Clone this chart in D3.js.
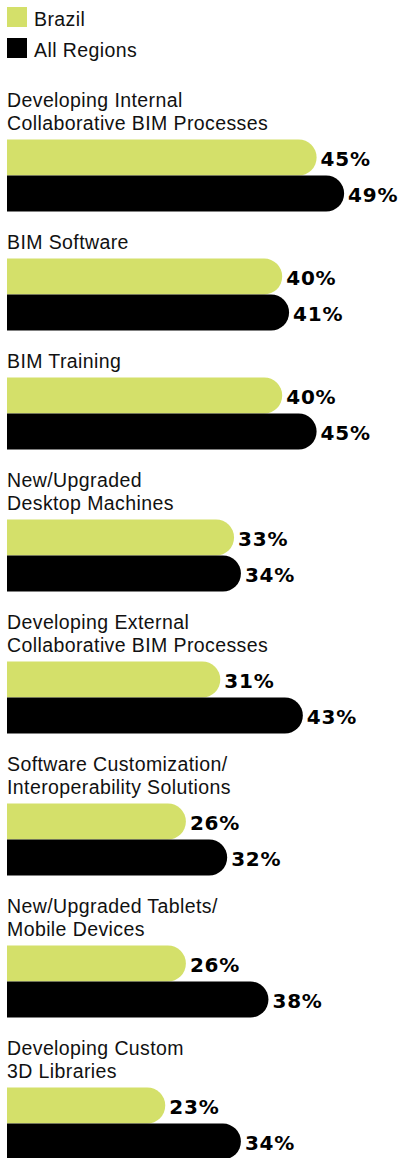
<!DOCTYPE html>
<html>
<head>
<meta charset="utf-8">
<script src="https://cdn.jsdelivr.net/npm/d3@7"></script>
<style>
  body { margin: 0; background: #fff; }
  .lab { font-family: "Liberation Sans", Arial, sans-serif; font-size: 19.5px; letter-spacing: 0.4px; fill: #111; }
  .val { font-family: "DejaVu Sans", sans-serif; font-weight: bold; font-size: 20px; letter-spacing: 0.8px; fill: #000; }
</style>
</head>
<body>
<div id="chart"></div>
<script>
// categories, one entry per line of the label
const categories = [
  ["Developing Internal", "Collaborative BIM Processes"],
  ["BIM Software"],
  ["BIM Training"],
  ["New/Upgraded", "Desktop Machines"],
  ["Developing External", "Collaborative BIM Processes"],
  ["Software Customization/", "Interoperability Solutions"],
  ["New/Upgraded Tablets/", "Mobile Devices"],
  ["Developing Custom", "3D Libraries"]
]
const brazil     = [45, 40, 40, 33, 31, 26, 26, 23]
const allRegions = [49, 41, 45, 34, 43, 32, 38, 34]
const seriesNames  = ["Brazil", "All Regions"]
const seriesColors = ["#d4e06a", "#000000"]

const width = 401, height = 1158
const barH = 36, lineH = 23

let svg = d3.select("#chart").append("svg")
  .attr("width", width)
  .attr("height", height)

let x = d3.scaleLinear().domain([0, 50]).range([7, 351])

// legend
let legend = svg.append("g")
seriesNames.forEach((name, i) => {
  legend.append("rect")
    .attr("x", 7).attr("y", 7 + i * 31)
    .attr("width", 20).attr("height", 20)
    .attr("fill", seriesColors[i])
  legend.append("text").attr("class", "lab")
    .attr("x", 34).attr("y", 26 + i * 31)
    .text(name)
})

// work out the vertical layout of each group
let groups = []
let y = 106.5
categories.forEach((lines, i) => {
  let baselines = lines.map((l, j) => y + j * lineH)
  let barTop = baselines[baselines.length - 1] + 10
  groups.push({lines, baselines, barTop, values: [brazil[i], allRegions[i]]})
  y = barTop + 2 * barH + 37
})

function barPath(x0, x1, top, h) {
  let r = h / 2
  return "M" + x0 + "," + top + "H" + (x1 - r) +
    "A" + r + "," + r + " 0 0 1 " + (x1 - r) + "," + (top + h) +
    "H" + x0 + "Z"
}

let g = svg.append("g").selectAll("g.group")
  .data(groups)
  .enter().append("g").attr("class", "group")

g.each(function(d) {
  let sel = d3.select(this)
  d.lines.forEach((l, j) => {
    sel.append("text").attr("class", "lab")
      .attr("x", 7).attr("y", d.baselines[j])
      .text(l)
  })
  d.values.forEach((v, k) => {
    let top = d.barTop + k * barH
    sel.append("path")
      .attr("d", barPath(x(0), x(v), top, barH))
      .attr("fill", seriesColors[k])
    sel.append("text").attr("class", "val")
      .attr("x", x(v) + 4)
      .attr("y", top + barH / 2 + 8)
      .text(v + "%")
  })
})
</script>
</body>
</html>
